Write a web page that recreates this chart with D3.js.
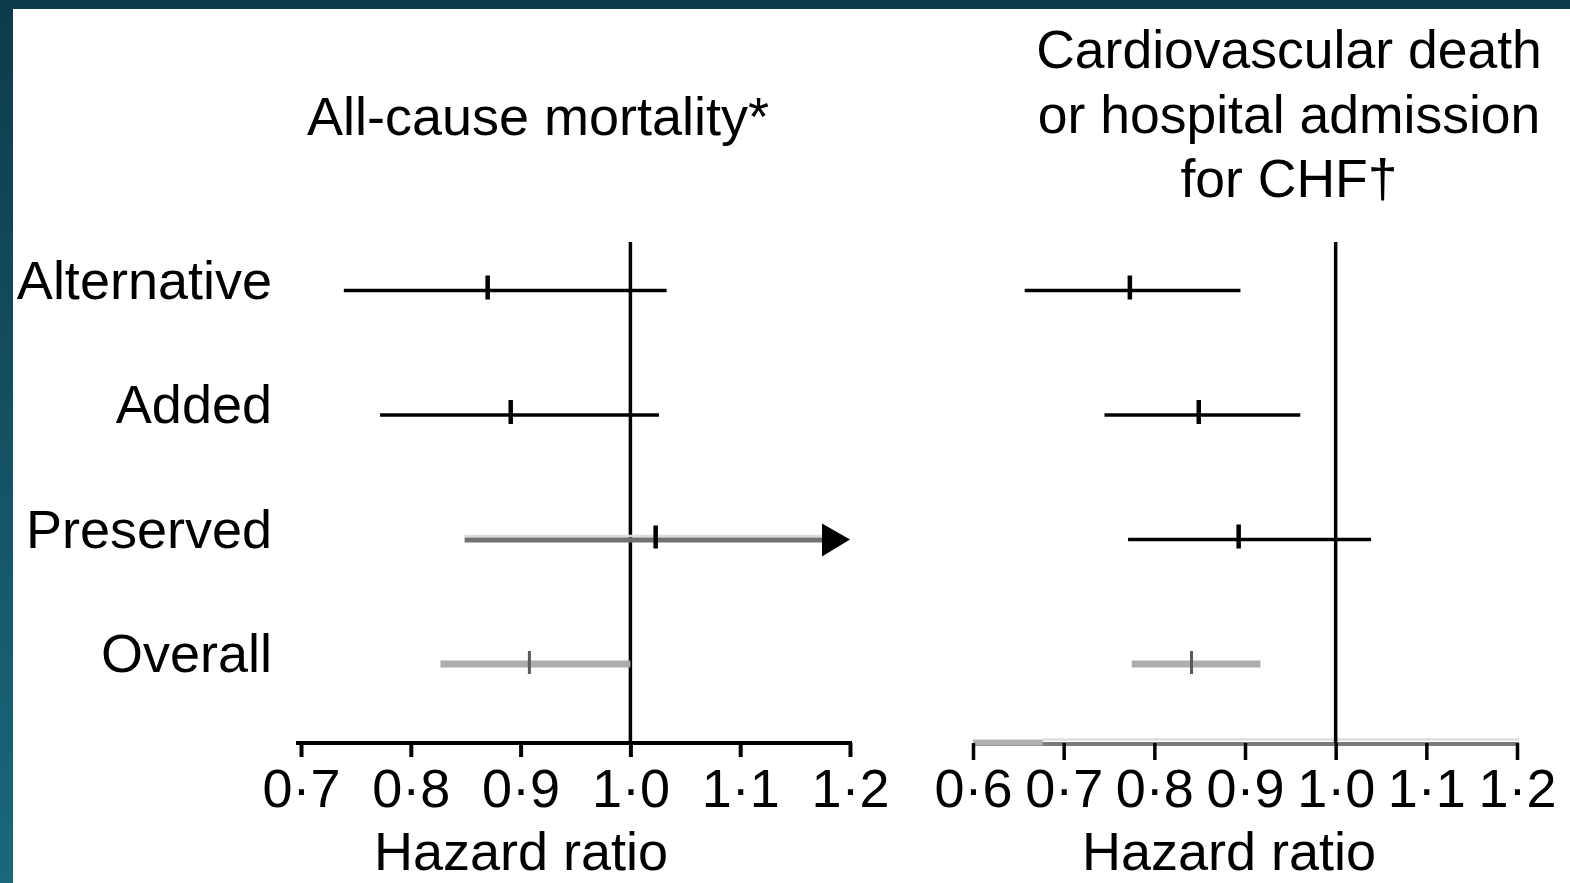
<!DOCTYPE html>
<html>
<head>
<meta charset="utf-8">
<script src="https://cdn.jsdelivr.net/npm/d3@7/dist/d3.min.js"></script>
<style>
  html, body { margin: 0; padding: 0; background: #ffffff; }
  svg { display: block; }
  text { font-family: "Liberation Sans", Arial, sans-serif; fill: #000; }
</style>
</head>
<body>
<script>
// ---- data ----
const rowLabels = ["Alternative", "Added", "Preserved", "Overall"];

// All-cause mortality (left panel)
const mortLow  = [0.739, 0.772, 0.849, 0.827];
const mortHR   = [0.870, 0.891, 1.023, 0.908];
const mortHigh = [1.033, 1.026, 1.200, 1.000];   // Preserved upper limit runs off the axis (arrow)
const mortArrow = [false, false, true, false];

// CV death or hospital admission for CHF (right panel)
const cvLow  = [0.657, 0.745, 0.771, 0.775];
const cvHR   = [0.773, 0.849, 0.893, 0.841];
const cvHigh = [0.895, 0.961, 1.039, 0.917];
const cvArrow = [false, false, false, false];

const mortTicks = [0.7, 0.8, 0.9, 1.0, 1.1, 1.2];
const cvTicks   = [0.6, 0.7, 0.8, 0.9, 1.0, 1.1, 1.2];

const leftTitle  = ["All-cause mortality*"];
const rightTitle = ["Cardiovascular death", "or hospital admission", "for CHF\u2020"];
const axisTitle  = "Hazard ratio";

// ---- layout ----
const W = 1570, H = 883;
const svg = d3.select("body").append("svg").attr("width", W).attr("height", H);

const defs = svg.append("defs");
const grad = defs.append("linearGradient").attr("id", "edge").attr("x1", 0).attr("y1", 0).attr("x2", 0).attr("y2", 1);
grad.append("stop").attr("offset", "0%").attr("stop-color", "#0e3b4b");
grad.append("stop").attr("offset", "100%").attr("stop-color", "#1a687c");

svg.append("rect").attr("width", W).attr("height", H).attr("fill", "url(#edge)");
svg.append("rect").attr("x", 13).attr("y", 9).attr("width", W - 13).attr("height", H - 9).attr("fill", "#ffffff");

const y = d3.scalePoint().domain(d3.range(4)).range([290.5, 664]);
const axisY = 743;
const refTop = 242;

const xL = d3.scaleLinear().domain([0.7, 1.2]).range([301, 850]);
const xR = d3.scaleLinear().domain([0.6, 1.2]).range([973, 1517]);

const fmt = v => d3.format(".1f")(v).replace(".", "\u00b7");

// row labels
svg.append("g").selectAll("text").data(rowLabels).join("text")
  .attr("x", 272).attr("y", (d, i) => y(i) + 8)
  .attr("text-anchor", "end").attr("font-size", 54).text(d => d);

// titles
svg.append("text").attr("x", 538).attr("y", 135).attr("text-anchor", "middle")
  .attr("font-size", 54).text(leftTitle[0]);
svg.append("g").selectAll("text").data(rightTitle).join("text")
  .attr("x", 1289).attr("y", (d, i) => 68 + i * 64.5).attr("text-anchor", "middle")
  .attr("font-size", 53.5).text(d => d);

function panel(x, lows, hrs, highs, arrows, ticks, panelIdx, hazardX) {
  const g = svg.append("g");

  // axis
  const ax = g.append("g").attr("transform", `translate(0,${axisY})`)
    .call(d3.axisBottom(x).tickValues(ticks).tickFormat(fmt).tickSizeOuter(0).tickSizeInner(panelIdx === 0 ? 14 : 17));
  ax.selectAll("text").attr("y", 64).attr("dy", 0).attr("font-size", 54)
    .attr("font-family", "Liberation Sans, Arial, sans-serif").attr("fill", "#000");
  ax.selectAll(".tick line").attr("stroke", "#000").attr("stroke-width", panelIdx === 0 ? 4 : 3.5);
  if (panelIdx === 0) {
    ax.select(".domain").attr("stroke", "#000").attr("stroke-width", 4)
      .attr("d", `M${x.range()[0] - 5},0H${x.range()[1] + 2}`);
  } else {
    ax.select(".domain").attr("stroke", "#7a7a7a").attr("stroke-width", 4)
      .attr("d", `M${x.range()[0]},1H${x.range()[1] + 2}`);
    ax.insert("path", ".tick").attr("d", `M${x(0.677)},-3.5H${x.range()[1] + 2}`)
      .attr("stroke", "#d8d8d8").attr("stroke-width", 2).attr("fill", "none");
    ax.insert("path", ".tick").attr("d", `M${x.range()[0]},-0.5H${x(0.677)}`)
      .attr("stroke", "#b0b0b0").attr("stroke-width", 6).attr("fill", "none");
  }

  // reference line at HR = 1
  g.append("line").attr("x1", x(1)).attr("x2", x(1)).attr("y1", refTop).attr("y2", axisY)
    .attr("stroke", "#000").attr("stroke-width", 3.5);

  // CI lines
  rowLabels.forEach((lab, i) => {
    const yy = y(i);
    const greyOverall = i === 3;
    const greyArrow = arrows[i];
    const xEnd = arrows[i] ? x(highs[i]) - 28 : x(highs[i]);
    if (greyOverall) {
      g.append("line").attr("x1", x(lows[i])).attr("x2", xEnd).attr("y1", yy).attr("y2", yy)
        .attr("stroke", "#adadad").attr("stroke-width", 7);
      g.append("line").attr("x1", x(hrs[i])).attr("x2", x(hrs[i])).attr("y1", yy - 13).attr("y2", yy + 10)
        .attr("stroke", "#5a5a5a").attr("stroke-width", 3);
    } else if (greyArrow) {
      g.append("line").attr("x1", x(lows[i])).attr("x2", xEnd).attr("y1", yy - 3.5).attr("y2", yy - 3.5)
        .attr("stroke", "#dcdcdc").attr("stroke-width", 2.5);
      g.append("line").attr("x1", x(lows[i])).attr("x2", xEnd).attr("y1", yy + 0.5).attr("y2", yy + 0.5)
        .attr("stroke", "#727272").attr("stroke-width", 5);
      g.append("path")
        .attr("d", `M${xEnd},${yy - 16}L${x(highs[i])},${yy}L${xEnd},${yy + 17}Z`)
        .attr("fill", "#000");
      g.append("line").attr("x1", x(hrs[i])).attr("x2", x(hrs[i])).attr("y1", yy - 14).attr("y2", yy + 9)
        .attr("stroke", "#000").attr("stroke-width", 4.5);
    } else {
      g.append("line").attr("x1", x(lows[i])).attr("x2", xEnd).attr("y1", yy).attr("y2", yy)
        .attr("stroke", "#000").attr("stroke-width", 3.5);
      g.append("line").attr("x1", x(hrs[i])).attr("x2", x(hrs[i])).attr("y1", yy - 15).attr("y2", yy + 9)
        .attr("stroke", "#000").attr("stroke-width", 4.5);
    }
  });

  g.append("text").attr("x", hazardX).attr("y", 870).attr("text-anchor", "middle")
    .attr("font-size", 54).text(axisTitle);
}

panel(xL, mortLow, mortHR, mortHigh, mortArrow, mortTicks, 0, 521);
panel(xR, cvLow, cvHR, cvHigh, cvArrow, cvTicks, 1, 1229);
</script>
</body>
</html>
